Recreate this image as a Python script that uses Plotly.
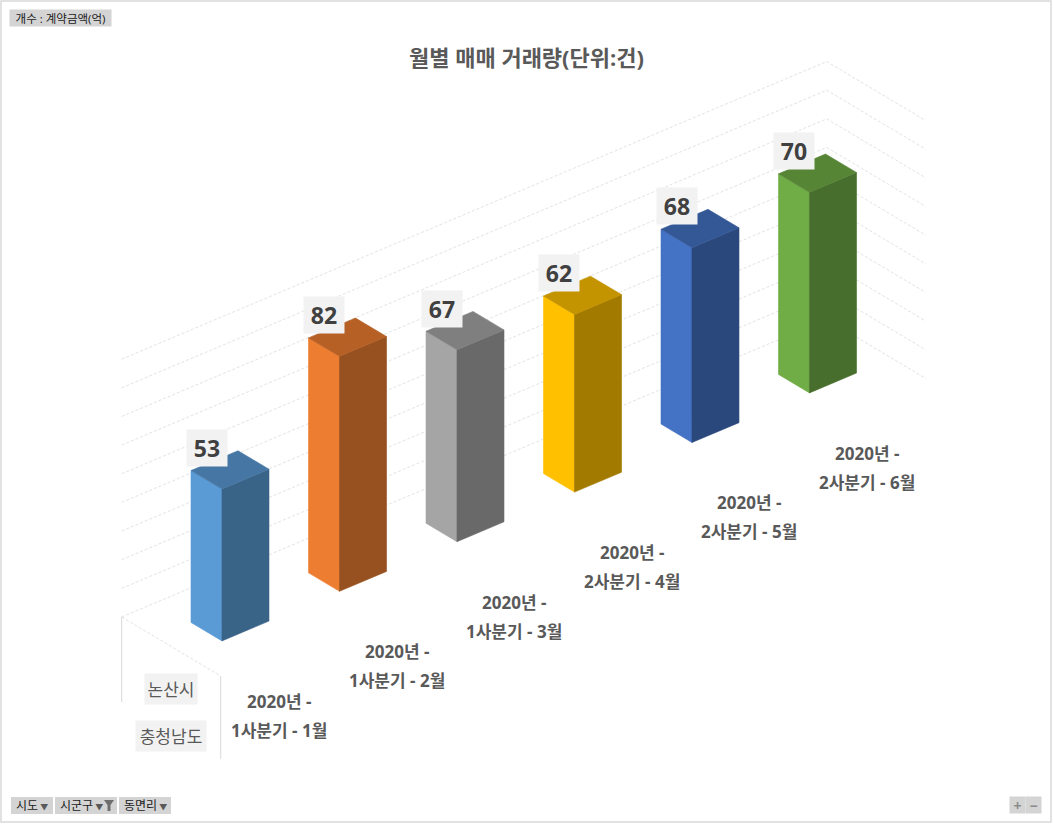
"""Monthly trade count chart drawn as an oblique 3D column chart."""

import plotly.graph_objects as go

# ---- data -------------------------------------------------------------
years = ["2020년", "2020년", "2020년", "2020년", "2020년", "2020년"]
quarters = ["1사분기", "1사분기", "1사분기", "2사분기", "2사분기", "2사분기"]
months = ["1월", "2월", "3월", "4월", "5월", "6월"]
counts = [53, 82, 67, 62, 68, 70]
bar_colors = ["#5B9BD5", "#ED7D31", "#A5A5A5", "#FFC000", "#4472C4", "#70AD47"]
region_labels = ["논산시", "충청남도"]
grid_values = [0, 10, 20, 30, 40, 50, 60, 70, 80, 90]
field_buttons = ["시도", "시군구", "동면리"]

# ---- projection of the chart box onto the page plane --------------------
W, H = 1053, 824
ORIGIN = (121.7, 617.0)     # back-left corner of the floor
CAT_VEC = (117.5, -49.6)    # one category step along the floor
DEPTH_VEC = (99.0, 59.0)    # whole floor depth, back -> front
VALUE_SCALE = 2.865         # plane units per count
BAR_GAP = 0.3               # gap on each side of a bar inside its slot
BAR_DEPTH = (0.344, 0.657)  # bar extent across the floor depth

KR = "Open Sans, Noto Sans CJK KR, sans-serif"
TEXT_GREY = "#595959"
GRID_GREY = "#E3E3E3"
BUTTON_GREY = "#D4D4D4"


def project(c, d, v):
    x = ORIGIN[0] + c * CAT_VEC[0] + d * DEPTH_VEC[0]
    y = ORIGIN[1] + c * CAT_VEC[1] + d * DEPTH_VEC[1] - v * VALUE_SCALE
    return x, y


def shade(hex_color, factor):
    r, g, b = (int(hex_color[k:k + 2], 16) for k in (1, 3, 5))
    return "#{:02X}{:02X}{:02X}".format(int(r * factor), int(g * factor), int(b * factor))


def polygon(points, color):
    xs = [p[0] for p in points] + [points[0][0]]
    ys = [p[1] for p in points] + [points[0][1]]
    return go.Scatter(
        x=xs, y=ys, mode="lines", fill="toself", fillcolor=color,
        line=dict(color=color, width=0.6), hoverinfo="skip", showlegend=False,
    )


fig = go.Figure()

# walls: value gridlines on the back wall and the right wall
n_cat = len(counts)
for v in grid_values:
    pts = [project(0, 0, v), project(n_cat, 0, v), project(n_cat, 1, v)]
    fig.add_trace(go.Scatter(
        x=[p[0] for p in pts], y=[p[1] for p in pts], mode="lines",
        line=dict(color=GRID_GREY, width=1, dash="3px,2px"),
        hoverinfo="skip", showlegend=False,
    ))

# floor left edge
edge = [project(0, 0, 0), project(0, 1, 0)]
fig.add_trace(go.Scatter(
    x=[p[0] for p in edge], y=[p[1] for p in edge], mode="lines",
    line=dict(color=GRID_GREY, width=1, dash="3px,2px"),
    hoverinfo="skip", showlegend=False,
))

# label column separators below the floor
for d, length in ((0, 85), (1, 83)):
    x0, y0 = project(0, d, 0)
    fig.add_trace(go.Scatter(
        x=[x0, x0], y=[y0, y0 + length], mode="lines",
        line=dict(color="#D9D9D9", width=1), hoverinfo="skip", showlegend=False,
    ))

# bars, back to front
d0, d1 = BAR_DEPTH
for i in reversed(range(n_cat)):
    v = counts[i]
    c0, c1 = i + BAR_GAP, i + 1 - BAR_GAP
    base = bar_colors[i]
    side = [project(c0, d0, 0), project(c0, d1, 0), project(c0, d1, v), project(c0, d0, v)]
    front = [project(c0, d1, 0), project(c1, d1, 0), project(c1, d1, v), project(c0, d1, v)]
    top = [project(c0, d0, v), project(c1, d0, v), project(c1, d1, v), project(c0, d1, v)]
    fig.add_trace(polygon(side, base))
    fig.add_trace(polygon(front, shade(base, 0.64)))
    fig.add_trace(polygon(top, shade(base, 0.77)))

annotations = []
shapes = [
    # outer chart border
    dict(type="rect", xref="x", yref="y", x0=1, y0=1, x1=1051, y1=822,
         line=dict(color="#D9D9D9", width=1.5), layer="below"),
]

# data labels
for i, v in enumerate(counts):
    x, y = project(i + 0.5, 0.5, v)
    annotations.append(dict(
        x=x, y=y, xshift=-23, yshift=22, text=f"<b>{v}</b>", showarrow=False,
        font=dict(family=KR, size=23, color="#404040"),
        bgcolor="#F2F2F2", width=40, height=36, borderpad=0,
    ))

# category labels (two lines under the front edge of the floor)
for i in range(n_cat):
    x, y = project(i + 0.5, 1, 0)
    annotations.append(dict(
        x=x, y=y, yshift=-50, text=f"<b>{years[i]} -</b>", showarrow=False,
        font=dict(family=KR, size=17, color=TEXT_GREY),
    ))
    annotations.append(dict(
        x=x, y=y, yshift=-79, text=f"<b>{quarters[i]} - {months[i]}</b>", showarrow=False,
        font=dict(family=KR, size=17, color=TEXT_GREY),
    ))

# region field labels
x, y = project(0, 0.5, 0)
for label, dy, width in zip(region_labels, (-42.5, -89), (52, 70)):
    annotations.append(dict(
        x=x, y=y, yshift=dy, text=label, showarrow=False,
        font=dict(family=KR, size=17, color=TEXT_GREY),
        bgcolor="#F2F2F2", width=width, height=30, borderpad=0,
    ))

# title
annotations.append(dict(
    x=526, y=57, text="<b>월별 매매 거래량(단위:건)</b>", showarrow=False,
    font=dict(family=KR, size=22, color=TEXT_GREY),
))

# pivot chart field buttons
annotations.append(dict(
    x=60.5, y=18, text="개수 : 계약금액(억)", showarrow=False,
    font=dict(family=KR, size=11.5, color="#1A1A1A"),
    bgcolor=BUTTON_GREY, width=101, height=16, borderpad=0,
))
button_x = [32, 86, 145]
button_w = [42, 62, 52]
for label, bx, bw in zip(field_buttons, button_x, button_w):
    shapes.append(dict(
        type="rect", xref="x", yref="y", x0=bx - bw / 2, x1=bx + bw / 2,
        y0=797, y1=814, fillcolor=BUTTON_GREY, line=dict(width=0), layer="above",
    ))
    arrow = '<span style="font-size:8px;color:#595959"> ▼</span>'
    if label == "시군구":
        arrow = '<span style="font-size:8px;color:#595959"> ▼    </span>'
    annotations.append(dict(
        x=bx, y=805.5, text=label + arrow, showarrow=False,
        font=dict(family=KR, size=12, color="#1A1A1A"),
    ))
# funnel icon on the filtered field button
shapes.append(dict(
    type="path", xref="x", yref="y",
    path="M 104 800 L 114 800 L 110.5 805 L 110.5 811 L 107.5 811 L 107.5 805 Z",
    fillcolor="#6E6E6E", line=dict(width=0), layer="above",
))
for label, bx in (("+", 1017.5), ("−", 1033.5)):
    annotations.append(dict(
        x=bx, y=805, text=f"<b>{label}</b>", showarrow=False,
        font=dict(family=KR, size=14, color="#8C8C8C"),
        bgcolor=BUTTON_GREY, width=15, height=16, borderpad=0,
    ))

fig.update_layout(
    width=W,
    height=H,
    margin=dict(l=0, r=0, t=0, b=0),
    paper_bgcolor="white",
    plot_bgcolor="white",
    showlegend=False,
    xaxis=dict(range=[0, W], visible=False, fixedrange=True),
    yaxis=dict(range=[H, 0], visible=False, fixedrange=True),
    annotations=annotations,
    shapes=shapes,
)

fig.write_html(
    "out.html",
    config={"displayModeBar": False},
    post_script="document.body.style.margin='0';",
)
